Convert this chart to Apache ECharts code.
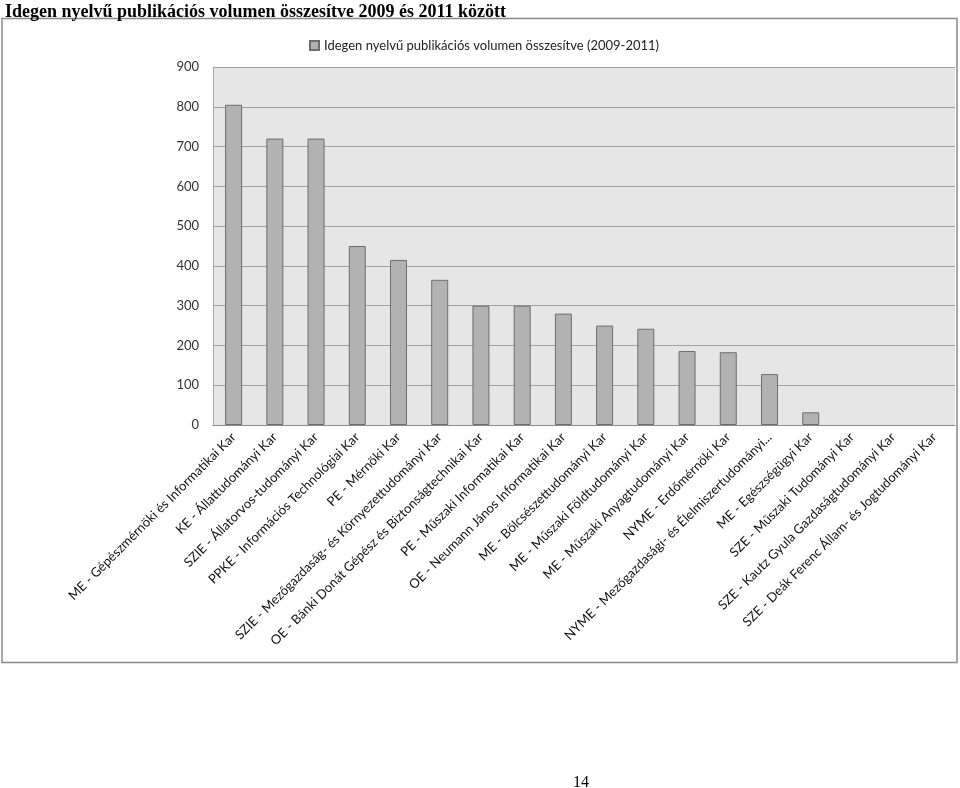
<!DOCTYPE html>
<html>
<head>
<meta charset="utf-8">
<script src="https://cdn.jsdelivr.net/npm/echarts@6/dist/echarts.min.js"></script>
<style>
html,body{margin:0;padding:0;background:#fff;}
#c{width:960px;height:788px;}
</style>
</head>
<body>
<div id="c"></div>
<script>
const docTitle = 'Idegen nyelvű publikációs volumen összesítve 2009 és 2011 között';
const seriesName = 'Idegen nyelvű publikációs volumen összesítve (2009-2011)';
const pageNumber = '14';
const categories = [
  'ME - Gépészmérnöki és Informatikai Kar',
  'KE - Állattudományi Kar',
  'SZIE - Állatorvos-tudományi Kar',
  'PPKE - Információs Technológiai Kar',
  'PE - Mérnöki Kar',
  'SZIE - Mezőgazdaság- és Környezettudományi Kar',
  'OE - Bánki Donát Gépész és Biztonságtechnikai Kar',
  'PE - Műszaki Informatikai Kar',
  'OE - Neumann János Informatikai Kar',
  'ME - Bölcsészettudományi Kar',
  'ME - Műszaki Földtudományi Kar',
  'ME - Műszaki Anyagtudományi Kar',
  'NYME - Erdőmérnöki Kar',
  'NYME - Mezőgazdasági- és Élelmiszertudományi...',
  'ME - Egészségügyi Kar',
  'SZE - Műszaki Tudományi Kar',
  'SZE - Kautz Gyula Gazdaságtudományi Kar',
  'SZE - Deák Ferenc Állam- és Jogtudományi Kar'
];
const values = [805, 720, 720, 450, 415, 365, 300, 300, 280, 250, 242, 186, 183, 128, 32, 0, 0, 0];

const barData = values.map(v => ({
  value: v,
  itemStyle: {borderWidth: v === 0 ? 0 : 1}
}));

const chart = echarts.init(document.getElementById('c'));
chart.setOption({
  animation: false,
  backgroundColor: '#ffffff',
  title: [
    {text: docTitle, left: 0, top: -2,
     textStyle: {fontFamily: 'Liberation Serif', fontWeight: 'bold', fontSize: 18, color: '#000'}},
    {text: pageNumber, left: 568, top: 770,
     textStyle: {fontFamily: 'Liberation Serif', fontWeight: 'normal', fontSize: 16, color: '#000'}}
  ],
  graphic: [
    {type: 'rect', shape: {x: 2, y: 18.5, width: 955, height: 644},
     style: {fill: 'none', stroke: '#8a8a8a', lineWidth: 1.5}, z: -1}
  ],
  legend: {
    left: 304, top: 34,
    itemWidth: 9, itemHeight: 9, itemGap: 4,
    icon: 'rect',
    textStyle: {fontFamily: 'Lato', fontSize: 13, color: '#222'},
    data: [seriesName]
  },
  grid: {left: 213, right: 5, top: 67, bottom: 363, containLabel: false,
         show: true, backgroundColor: '#e6e6e6', borderWidth: 0},
  xAxis: {
    type: 'category',
    data: categories,
    axisLine: {show: true, lineStyle: {color: '#8c8c8c', width: 1}},
    axisTick: {show: false},
    axisLabel: {interval: 0, rotate: 45, fontFamily: 'Lato', fontSize: 13, color: '#111', margin: 10}
  },
  yAxis: {
    type: 'value', min: 0, max: 900, interval: 100,
    axisLine: {show: true, lineStyle: {color: '#a8a8a8', width: 1}},
    axisTick: {show: false},
    axisLabel: {fontFamily: 'Lato', fontSize: 13, color: '#333', margin: 14},
    splitLine: {show: true, lineStyle: {color: '#a0a0a0', width: 1}}
  },
  series: [{
    name: seriesName,
    type: 'bar',
    data: barData,
    barWidth: 17,
    itemStyle: {color: '#b2b2b2', borderColor: '#6e6e6e', borderWidth: 1}
  }]
});
</script>
</body>
</html>
